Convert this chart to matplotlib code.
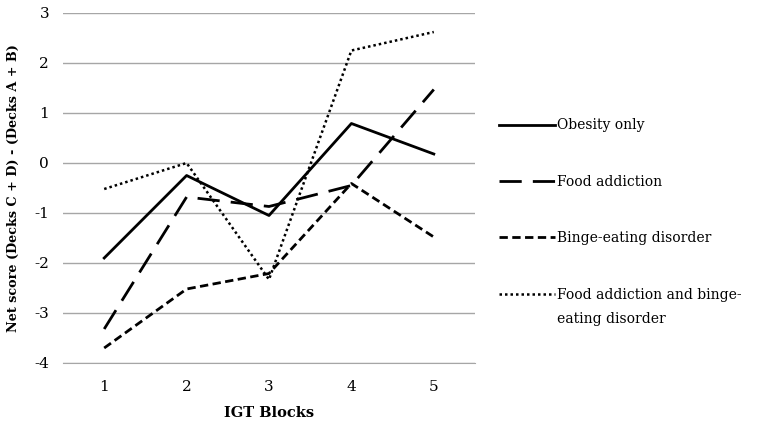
import matplotlib
matplotlib.use("Agg")
import matplotlib.pyplot as plt

blocks = [1, 2, 3, 4, 5]
obesity_only = [-1.90, -0.25, -1.05, 0.79, 0.18]
food_addiction = [-3.32, -0.68, -0.87, -0.45, 1.47]
binge_eating = [-3.70, -2.52, -2.21, -0.41, -1.48]
fa_and_bed = [-0.52, 0.00, -2.33, 2.25, 2.62]
labels = ["Obesity only", "Food addiction", "Binge-eating disorder",
          "Food addiction and binge-"]
last_label_cont = "eating disorder"
ytick_labels = ["-4", "-3", "-2", "-1", "0", "1", "2", "3"]

plt.rcParams['font.family'] = ['DejaVu Serif']

fig = plt.figure(figsize=(7.57, 4.26), dpi=100)
ax = fig.add_axes([63/757, 1-363/426, (475-63)/757, 350/426])

ax.plot(blocks, obesity_only, color='black', lw=2.0, linestyle='-', label=labels[0])
ax.plot(blocks, food_addiction, color='black', lw=2.0, linestyle=(0, (8, 4)), label=labels[1])
ax.plot(blocks, binge_eating, color='black', lw=2.0, linestyle=(0, (3, 1.6)), label=labels[2])
ax.plot(blocks, fa_and_bed, color='black', lw=1.8, linestyle=(0, (1, 1.2)), label=labels[3])

ax.set_xlim(0.5, 5.5)
ax.set_ylim(-4, 3)
ax.set_yticks(range(-4, 4))
ax.set_yticklabels(ytick_labels)
ax.set_xticks(blocks)
ax.grid(axis='y', color='#a6a6a6', lw=1.0)
ax.set_axisbelow(True)
for s in ['left', 'right', 'top']:
    ax.spines[s].set_visible(False)
ax.spines['bottom'].set_color('#a6a6a6')
ax.tick_params(axis='both', length=0, labelsize=11)
ax.tick_params(axis='x', pad=12)
ax.tick_params(axis='y', pad=10)

ax.set_xlabel("IGT Blocks", fontsize=10.5, fontweight='bold', labelpad=9)
ax.set_ylabel("Net score (Decks C + D) - (Decks A + B)", fontsize=9.2, fontweight='bold', labelpad=10)

leg = fig.legend(loc='upper left', bbox_to_anchor=(487/757, 1-106/426), frameon=False,
                 fontsize=10, handlelength=4.0, labelspacing=3.05, handletextpad=0.15)

fig.canvas.draw()
bb = leg.get_texts()[3].get_window_extent()
x0, y0 = fig.transFigure.inverted().transform((bb.x0, (bb.y0 + bb.y1) / 2 - 24))
fig.text(x0, y0, last_label_cont, fontsize=10, va='center', ha='left')

fig.savefig("out.png", dpi=100)
